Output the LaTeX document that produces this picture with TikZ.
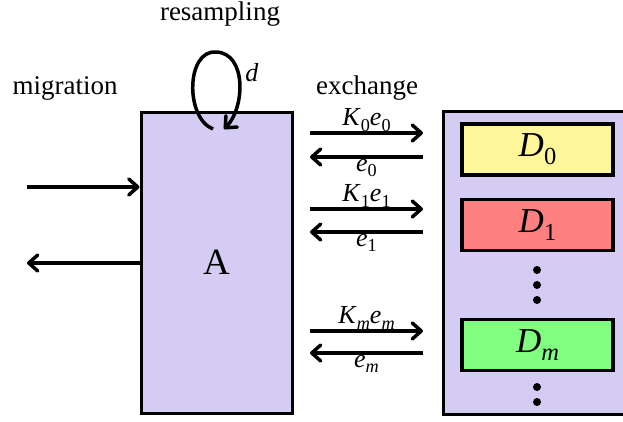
\documentclass[tikz,border=0pt]{standalone}
\usepackage{fontspec}
\setmainfont{Liberation Serif}
\usetikzlibrary{arrows.meta}
\newcommand{\sbs}[1]{\raisebox{-0.22em}{\scalebox{0.7}{#1}}}
\definecolor{lav}{HTML}{D5CCF4}
\definecolor{dyel}{HTML}{FFF599}
\definecolor{dred}{HTML}{FF8080}
\definecolor{dgrn}{HTML}{80FF80}
\begin{document}
\begin{tikzpicture}[x=1pt,y=-1pt,
  boxa/.style={draw, line width=3pt, fill=lav, inner sep=0pt},
  dbox/.style={draw, line width=3.5pt, inner sep=0pt, minimum width=151pt, minimum height=51pt, font=\fontsize{35}{38}\selectfont},
  arr/.style={line width=3.5pt, -{Straight Barb[length=9pt,width=16pt,line cap=round,line join=round]}},
  lbl/.style={font=\fontsize{27}{30}\selectfont, inner sep=0pt},
  alab/.style={font=\fontsize{26}{28}\selectfont, inner sep=1pt},
  vdot/.style={circle, fill=black, inner sep=0pt, minimum size=8pt}]
\clip (0,0) rectangle (623,421);
\fill[white] (0,0) rectangle (623,421);
% agent box
\node[boxa, minimum width=151pt, minimum height=301pt, font=\fontsize{37}{40}\selectfont] (A) at (216.5,262.5) {A};
% data box (extends past the right edge)
\node[boxa, minimum width=220pt, minimum height=303pt, anchor=north west] (D) at (442,110) {};
\node[dbox, fill=dyel] (D0) at (537.5,149.5) {\textit{D}\sbs{0}};
\node[dbox, fill=dred] (D1) at (537.5,225) {\textit{D}\sbs{1}};
\node[dbox, fill=dgrn] (Dm) at (537.5,345) {\textit{D}\sbs{\textit{m}}};
\node[vdot] (v1) at (537,270) {};
\node[vdot] (v2) at (537,285) {};
\node[vdot] (v3) at (537,300) {};
\node[vdot] (v4) at (537,387) {};
\node[vdot] (v5) at (537,402) {};
% labels
\node[lbl] (mig) at (65,88) {migration};
\node[lbl] (exch) at (367,88) {exchange};
\node[lbl] (res) at (220,14) {resampling};
% resampling loop
\coordinate (ls) at (213,129);
\coordinate (lt) at (224,129);
\draw[arr] (ls) .. controls (185,118) and (186,50) .. (216,52) .. controls (247,53) and (245,108) .. (lt);
\node[alab] (dl) at (252,73) {\textit{d}};
% migration arrows
\coordinate (inS) at (27,187);
\coordinate (outT) at (27,263);
\draw[arr] (inS) -- (A.west |- inS);
\draw[arr] (A.west |- outT) -- (outT);
% exchange arrows
\coordinate (k0s) at (310,133); \coordinate (k0t) at (423,133);
\coordinate (e0s) at (423,157); \coordinate (e0t) at (310,157);
\coordinate (k1s) at (310,209); \coordinate (k1t) at (423,209);
\coordinate (e1s) at (423,232); \coordinate (e1t) at (310,232);
\coordinate (kms) at (310,331); \coordinate (kmt) at (423,331);
\coordinate (ems) at (423,353); \coordinate (emt) at (310,353);
\draw[arr] (k0s) -- (k0t) node[alab, midway, above, inner sep=0pt] {\textit{K}\sbs{0}\textit{e}\sbs{0}};
\draw[arr] (e0s) -- (e0t) node[alab, midway, below, inner sep=0pt] {\textit{e}\sbs{0}};
\draw[arr] (k1s) -- (k1t) node[alab, midway, above, inner sep=0pt] {\textit{K}\sbs{1}\textit{e}\sbs{1}};
\draw[arr] (e1s) -- (e1t) node[alab, midway, below, inner sep=0pt] {\textit{e}\sbs{1}};
\draw[arr] (kms) -- (kmt) node[alab, midway, above, inner sep=0pt] {\textit{K}\sbs{\textit{m}}\textit{e}\sbs{\textit{m}}};
\draw[arr] (ems) -- (emt) node[alab, midway, below, inner sep=0pt] {\textit{e}\sbs{\textit{m}}};
\end{tikzpicture}
\end{document}
